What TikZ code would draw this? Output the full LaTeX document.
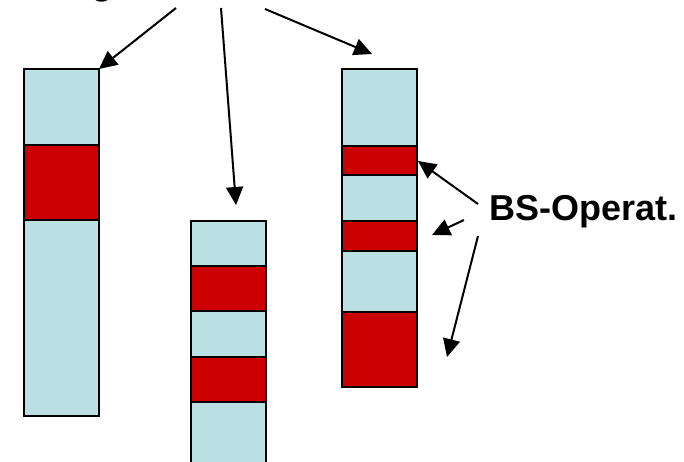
\documentclass[tikz,border=0pt]{standalone}
\usepackage{fontspec}
\setmainfont{Liberation Sans}
\usetikzlibrary{arrows.meta}
\definecolor{lb}{HTML}{BAE0E3}
\definecolor{rd}{HTML}{CC0000}
\begin{document}
\begin{tikzpicture}[x=1pt,y=-1pt,
  cell/.style={draw=black,line width=1.8pt,inner sep=0pt,outer sep=0pt,anchor=north west,minimum width=75pt},
  light/.style={cell,fill=lb},
  dark/.style={cell,fill=rd},
  arr/.style={line width=2pt,-{Triangle[length=18pt,width=17pt]}},
  lbl/.style={font=\bfseries\fontsize{36}{40}\selectfont,inner sep=0pt}]
\useasboundingbox (0,0) rectangle (684,462);
\begin{scope}
\clip (0,0) rectangle (684,462);
% left column
\node[light,minimum height=76pt] (L1) at (24,69) {};
\node[dark,minimum height=75pt] (L2) at (24,145) {};
\node[light,minimum height=196pt] (L3) at (24,220) {};
% middle column
\node[light,minimum height=45pt] (M1) at (191,221) {};
\node[dark,minimum height=45pt] (M2) at (191,266) {};
\node[light,minimum height=46pt] (M3) at (191,311) {};
\node[dark,minimum height=45pt] (M4) at (191,357) {};
\node[light,minimum height=80pt] (M5) at (191,402) {};
% right column
\node[light,minimum height=77pt] (R1) at (342,69) {};
\node[dark,minimum height=29pt] (R2) at (342,146) {};
\node[light,minimum height=46pt] (R3) at (342,175) {};
\node[dark,minimum height=30pt] (R4) at (342,221) {};
\node[light,minimum height=61pt] (R5) at (342,251) {};
\node[dark,minimum height=75pt] (R6) at (342,312) {};
% labels
\node[lbl,anchor=base] (top) at (102,-5.5) {g};
\node[lbl,anchor=base west] (bs) at (489,220) {BS-Operat.};
% connector ends
\coordinate (s1) at (176,8);
\coordinate (s2) at (221,8);
\coordinate (s3) at (265,9);
\coordinate (e2) at (236,205);
\coordinate (e3) at (372,54);
\coordinate (b1) at (478,204);
\coordinate (b2) at (464,220);
\coordinate (b3) at (478,236);
\coordinate (f1) at (418,161);
\coordinate (f2) at (432,235);
\coordinate (f3) at (447,357);
\draw[arr] (s1) -- (L1.north east);
\draw[arr] (s2) -- (e2);
\draw[arr] (s3) -- (e3);
\draw[arr] (b1) -- (f1);
\draw[arr] (b2) -- (f2);
\draw[arr] (b3) -- (f3);
\end{scope}
\end{tikzpicture}
\end{document}
